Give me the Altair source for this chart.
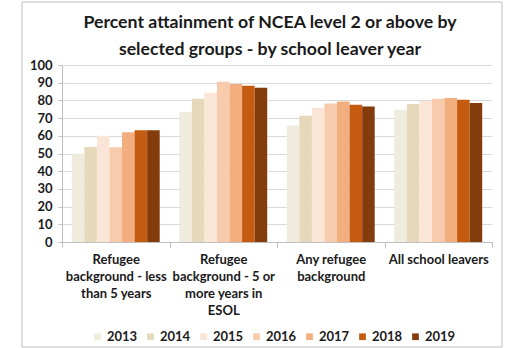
import altair as alt
import pandas as pd

groups = [
    "Refugee|background - less|than 5 years",
    "Refugee|background - 5 or|more years in|ESOL",
    "Any refugee|background",
    "All school leavers",
]
years = ["2013", "2014", "2015", "2016", "2017", "2018", "2019"]
colors = ["#EFEBDD", "#E6D8BA", "#FBE5D6", "#F8CBAD", "#F2AE7E", "#C55A11", "#843C0C"]

v2013 = [50, 73.5, 65.8, 74.7]
v2014 = [53.7, 81, 71.3, 77.9]
v2015 = [60, 84.3, 75.8, 79.8]
v2016 = [53.5, 90.5, 78.3, 80.9]
v2017 = [62, 89.2, 79.4, 81.3]
v2018 = [63.1, 88.3, 77.5, 80.3]
v2019 = [63.1, 87.1, 76.6, 78.6]

series = [v2013, v2014, v2015, v2016, v2017, v2018, v2019]
rows = []
for yr, vals in zip(years, series):
    for g, v in zip(groups, vals):
        rows.append({"group": g, "year": yr, "value": v})
df = pd.DataFrame(rows)

FONT = "Lato"
TXT = "#1a1a1a"

bars = alt.Chart(df).mark_bar().encode(
    x=alt.X(
        "group:N",
        sort=groups,
        scale=alt.Scale(paddingInner=0, paddingOuter=0),
        axis=alt.Axis(
            title=None,
            labelAngle=0,
            labelExpr="split(datum.label, '|')",
            tickBand="extent",
            domainColor="#BFBFBF",
            tickColor="#BFBFBF",
            tickSize=5,
            labelFont=FONT,
            labelFontSize=13,
            labelFontWeight="bold",
            labelColor=TXT,
            labelLineHeight=17,
            labelPadding=6,
            labelBaseline="top",
        ),
    ),
    xOffset=alt.XOffset(
        "year:N", sort=years, scale=alt.Scale(paddingOuter=0.78, paddingInner=0)
    ),
    y=alt.Y(
        "value:Q",
        scale=alt.Scale(domain=[0, 100]),
        axis=alt.Axis(
            title=None,
            values=list(range(0, 101, 10)),
            gridColor="#D9D9D9",
            domainColor="#BFBFBF",
            tickColor="#BFBFBF",
            tickSize=4,
            labelFont=FONT,
            labelFontSize=13,
            labelFontWeight="bold",
            labelColor=TXT,
            labelPadding=6,
        ),
    ),
    color=alt.Color(
        "year:N",
        sort=years,
        scale=alt.Scale(domain=years, range=colors),
        legend=alt.Legend(
            title=None,
            orient="none",
            direction="horizontal",
            legendX=29,
            legendY=265,
            symbolType="square",
            symbolSize=45,
            symbolStrokeWidth=0,
            labelFont=FONT,
            labelFontSize=13,
            labelFontWeight="bold",
            labelColor=TXT,
            columnPadding=6,
            labelOffset=3,
        ),
    ),
)

border = alt.Chart(alt.Data(values=[{}])).mark_rect(
    fillOpacity=0, stroke="#BFBFBF", strokeWidth=1, clip=False
).encode(
    x=alt.value(-40), x2=alt.value(440), y=alt.value(-63), y2=alt.value(282)
)

chart = alt.layer(bars, border).properties(
    width=430,
    height=177,
    padding={"left": 62, "top": 65, "right": 14, "bottom": 106},
    autosize=alt.AutoSizeParams(type="none"),
    title=alt.Title(
        ["Percent attainment of NCEA level 2 or above by", "selected groups - by school leaver year"],
        font=FONT,
        fontSize=17.7,
        fontWeight="bold",
        color=TXT,
        anchor="middle",
        lineHeight=27,
        offset=0,
        dy=57,
        dx=-7,
    ),
).configure_view(strokeOpacity=0)

chart.save("out.html", embed_options={"renderer": "svg", "actions": False})
